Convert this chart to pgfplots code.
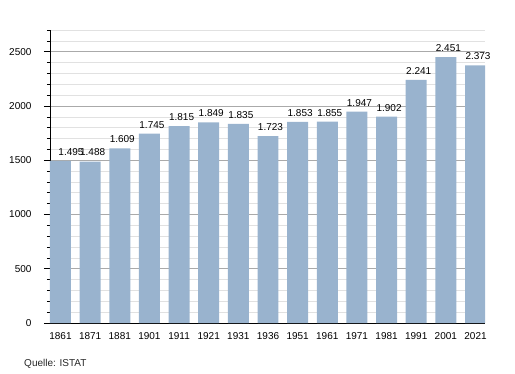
\documentclass[border=0pt]{standalone}
\usepackage{pgfplots}
\pgfplotsset{compat=1.18}
\usepackage{fontspec}
\setmainfont{Liberation Sans}
\definecolor{barblue}{RGB}{153,179,206}
\definecolor{majgrid}{RGB}{170,170,170}
\definecolor{mingrid}{RGB}{225,225,225}
\begin{document}
\fontsize{10}{12}\selectfont
\begin{tikzpicture}
\useasboundingbox (-50pt,-50pt) rectangle (465pt,323pt);
\begin{axis}[
  at={(0,0)}, anchor=south west,
  scale only axis,
  width=435pt, height=293pt,
  xmin=-0.354, xmax=14.32,
  ymin=0, ymax=2700,
  axis x line*=bottom,
  axis y line*=left,
  axis line style={black, line width=0.8pt, -},
  xtick={0,...,14},
  xticklabels={1861,1871,1881,1901,1911,1921,1931,1936,1951,1961,1971,1981,1991,2001,2021},
  x tick style={draw=none},
  ytick={0,500,1000,1500,2000,2500},
  minor ytick={100,200,300,400,600,700,800,900,1100,1200,1300,1400,1600,1700,1800,1900,2100,2200,2300,2400,2600,2700},
  ymajorgrids, yminorgrids,
  major grid style={majgrid, line width=0.6pt},
  minor grid style={mingrid, line width=0.6pt},
  y tick style={black, line width=0.6pt},
  major tick length=6pt, minor tick length=3pt,
  tick align=outside,
  yticklabel style={/pgf/number format/1000 sep={}, font=\fontsize{10}{12}\selectfont, xshift=-9pt},
  xticklabel style={font=\fontsize{10}{12}\selectfont, yshift=0pt},
  /pgf/number format/assume math mode=true,
  ybar, bar width=0.708, bar shift=0pt,
  nodes near coords={\pgfmathprintnumber[1000 sep={.}]{\pgfplotspointmeta}},
  every node near coord/.append style={font=\fontsize{10}{12}\selectfont, inner sep=0pt, anchor=south, yshift=5.3pt, xshift=2.5pt},
  axis on top=false,
]
\addplot[fill=barblue, draw=none,
  coordinate style/.condition={\coordindex==0}{xshift=8pt}]
  coordinates {
  (0,1495) (1,1488) (2,1609) (3,1745) (4,1815) (5,1849) (6,1835) (7,1723)
  (8,1853) (9,1855) (10,1947) (11,1902) (12,2241) (13,2451) (14,2373)
};
\end{axis}
\node[anchor=base west, font=\fontsize{10}{12}\selectfont, text=black!85] at (-29.3pt,-43pt) {Quelle: ISTAT};
\end{tikzpicture}
\end{document}
